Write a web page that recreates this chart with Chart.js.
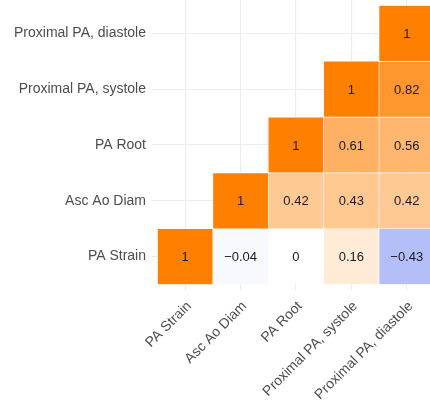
<!DOCTYPE html>
<html><head><meta charset="utf-8">
<script src="https://cdn.jsdelivr.net/npm/chart.js@4"></script>
<style>
html,body{margin:0;padding:0;background:#fff;overflow:hidden;}
canvas{display:block;}
</style></head><body>
<canvas id="c" width="430" height="400"></canvas>
<script>
const variables = ['PA Strain', 'Asc Ao Diam', 'PA Root', 'Proximal PA, systole', 'Proximal PA, diastole'];

// Correlations for each row, starting at the diagonal and running right
const rowPAStrain = [1, -0.04, 0, 0.16, -0.43];
const rowAscAoDiam = [1, 0.42, 0.43, 0.42];
const rowPARoot = [1, 0.61, 0.56];
const rowProxSystole = [1, 0.82];
const rowProxDiastole = [1];
const rows = [rowPAStrain, rowAscAoDiam, rowPARoot, rowProxSystole, rowProxDiastole];

const cells = [];
rows.forEach((vals, r) => {
  vals.forEach((v, k) => {
    cells.push({ x: r + k + 1, y: [r + 0.5, r + 1.5], v: v });
  });
});

const HIGH = [255, 127, 0];
const LOW = [80, 105, 240];
function fillFor(v) {
  const end = v >= 0 ? HIGH : LOW;
  const t = Math.min(1, Math.abs(v));
  const c = end.map(e => Math.round(255 + (e - 255) * t));
  return `rgb(${c[0]},${c[1]},${c[2]})`;
}
function fmt(v) {
  return String(v).replace('-', '\u2212');
}

const FONT = "'Liberation Sans', Arial, Helvetica, sans-serif";
const GRID = '#EBEBEB';

const cellLabels = {
  id: 'cellLabels',
  afterDatasetsDraw(chart) {
    const ctx = chart.ctx;
    const meta = chart.getDatasetMeta(0);
    ctx.save();
    ctx.font = `13px ${FONT}`;
    ctx.fillStyle = '#1A1A1A';
    ctx.textAlign = 'center';
    ctx.textBaseline = 'middle';
    meta.data.forEach((el, i) => {
      const raw = chart.data.datasets[0].data[i];
      ctx.fillText(fmt(raw.v), el.x, (el.y + el.base) / 2 + 1);
    });
    ctx.restore();
  }
};

const tickIdx = scale => { scale.ticks = variables.map((_, i) => ({ value: i + 1 })); };
const noEdgePadding = s => { s.paddingLeft = 0; s.paddingRight = 0; s.paddingTop = 0; s.paddingBottom = 0; };

new Chart(document.getElementById('c'), {
  type: 'bar',
  data: {
    datasets: [{
      data: cells,
      backgroundColor: ctx => ctx.raw ? fillFor(ctx.raw.v) : '#fff',
      borderColor: '#FFFFFF',
      borderWidth: 0.6,
      borderSkipped: false,
      barPercentage: 1,
      categoryPercentage: 1
    }]
  },
  options: {
    responsive: false,
    animation: false,
    devicePixelRatio: 1,
    layout: { padding: 0 },
    plugins: { legend: { display: false }, tooltip: { enabled: false } },
    scales: {
      x: {
        type: 'linear',
        offset: false,
        min: 0.4,
        max: 5.42,
        afterBuildTicks: tickIdx,
        afterFit: s => { s.height = 110; noEdgePadding(s); },
        border: { display: false },
        grid: { color: GRID, lineWidth: 1.1, drawTicks: false, offset: false },
        ticks: {
          autoSkip: false,
          minRotation: 45,
          maxRotation: 45,
          padding: 8,
          labelOffset: 4,
          color: '#4D4D4D',
          font: { family: FONT, size: 14 },
          callback: v => variables[v - 1]
        }
      },
      y: {
        type: 'linear',
        min: 0.4,
        max: 5.6,
        afterBuildTicks: tickIdx,
        afterFit: s => { s.width = 152; noEdgePadding(s); },
        border: { display: false },
        grid: { color: GRID, lineWidth: 1.1, drawTicks: false },
        ticks: {
          padding: 6,
          color: '#4D4D4D',
          font: { family: FONT, size: 14 },
          callback: v => variables[v - 1]
        }
      }
    }
  },
  plugins: [cellLabels]
});
</script>
</body></html>
